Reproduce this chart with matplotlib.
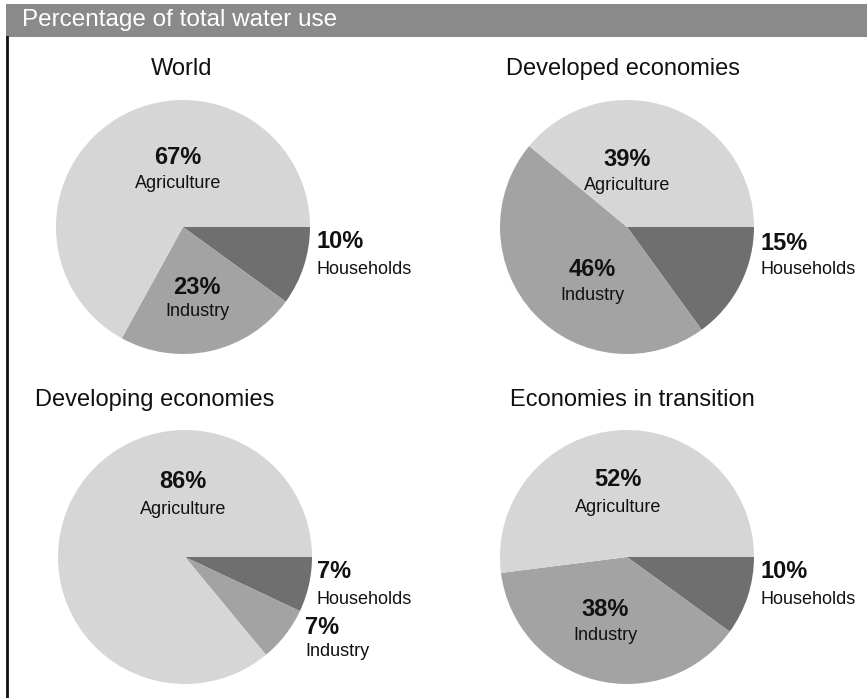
import matplotlib
matplotlib.use("Agg")
import matplotlib.pyplot as plt
from matplotlib.patches import Rectangle

plt.rcParams['font.family'] = ['Liberation Sans', 'DejaVu Sans']

# Share of total water use by sector (percent)
regions = ["World", "Developed economies", "Developing economies", "Economies in transition"]
sectors = ["Households", "Industry", "Agriculture"]
households = [10, 15, 7, 10]
industry = [23, 46, 7, 38]
agriculture = [67, 39, 86, 52]
title = "Percentage of total water use"

colors = ["#6f6f6f", "#a3a3a3", "#d6d6d6"]

W, H = 867, 698
fig = plt.figure(figsize=(W / 100, H / 100), dpi=100)
ax = fig.add_axes([0, 0, 1, 1])

def Y(y):
    return H - y

# pie centres, radius and label anchors (pixel layout)
centers = [(183, 227), (627, 227), (185, 557), (627, 557)]
radius = 127
title_pos = [(182, 69), (623, 69), (155, 400), (632, 400)]
agri_pos = [(178, 157), (627, 159), (183, 482), (618, 480)]
house_pos = [(317, 242), (760, 243), (317, 572), (760, 572)]
ind_pos = [(197, 287), (592, 270), (305, 627), (605, 610)]
ind_left = [False, False, True, False]

for i, region in enumerate(regions):
    vals = [households[i], industry[i], agriculture[i]]
    cx, cy = centers[i]
    ax.pie(vals, colors=colors, startangle=0, counterclock=False,
           center=(cx, Y(cy)), radius=radius,
           wedgeprops=dict(linewidth=0, antialiased=True), frame=True)
    tx, ty = title_pos[i]
    ax.text(tx, Y(ty), region, ha="center", va="center", fontsize=17, color="#111111")

    ax_, ay_ = agri_pos[i]
    ax.text(ax_, Y(ay_), f"{agriculture[i]}%", ha="center", va="center",
            fontsize=17, fontweight="bold", color="#111111")
    ax.text(ax_, Y(ay_ + 27), sectors[2], ha="center", va="center",
            fontsize=13, color="#111111")

    hx, hy = house_pos[i]
    ax.text(hx, Y(hy), f"{households[i]}%", ha="left", va="center",
            fontsize=17, fontweight="bold", color="#111111")
    ax.text(hx, Y(hy + 27), sectors[0], ha="left", va="center",
            fontsize=13, color="#111111")

    ix, iy = ind_pos[i]
    ha = "left" if ind_left[i] else "center"
    ax.text(ix, Y(iy), f"{industry[i]}%", ha=ha, va="center",
            fontsize=17, fontweight="bold", color="#111111")
    ax.text(ix, Y(iy + 25), sectors[1], ha=ha, va="center",
            fontsize=13, color="#111111")

# header band and left rule
ax.add_patch(Rectangle((6, Y(37)), W - 6, 33, facecolor="#8a8a8a", edgecolor="none", zorder=0))
ax.plot([7, 7], [Y(37), 0], color="#111111", linewidth=2)
ax.text(22, Y(20), title, ha="left", va="center", fontsize=17.5, color="white")

ax.set_xlim(0, W)
ax.set_ylim(0, H)
ax.set_aspect("auto")
ax.axis("off")

fig.savefig("out.png", dpi=100, facecolor="white")
